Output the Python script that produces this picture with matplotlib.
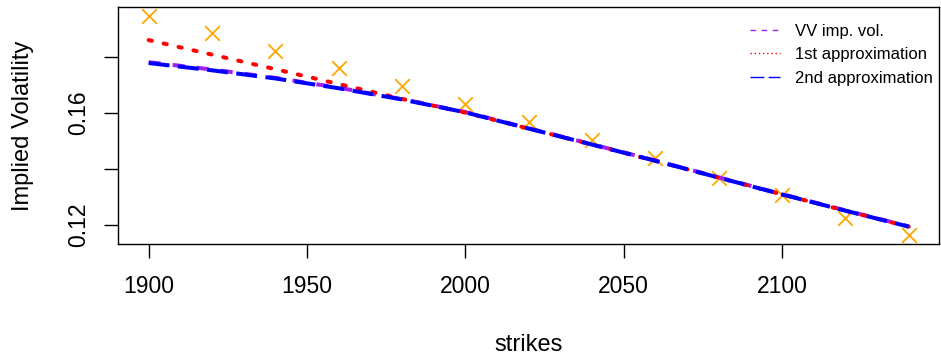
import matplotlib
matplotlib.use('Agg')
import matplotlib.pyplot as plt
from matplotlib.lines import Line2D

# data
strikes = [1900, 1920, 1940, 1960, 1980, 2000, 2020, 2040, 2060, 2080, 2100, 2120, 2140]
market_vol = [0.1946, 0.1884, 0.1821, 0.1760, 0.1696, 0.1632, 0.1569, 0.1503,
              0.1439, 0.1368, 0.1307, 0.1226, 0.1164]
vv_vol = [0.1781, 0.1755, 0.1725, 0.1690, 0.1649, 0.1603, 0.1545, 0.1488,
          0.1430, 0.1370, 0.1310, 0.1252, 0.1195]
first_approx = [0.1860, 0.1808, 0.1756, 0.1703, 0.1650, 0.1601, 0.1544, 0.1487,
                0.1429, 0.1369, 0.1309, 0.1251, 0.1194]
second_approx = [0.1778, 0.1752, 0.1723, 0.1688, 0.1648, 0.1602, 0.1544, 0.1487,
                 0.1429, 0.1369, 0.1309, 0.1251, 0.1194]
xticks = [1900, 1950, 2000, 2050, 2100]
yticks = [0.12, 0.14, 0.16, 0.18]
ytick_labels = ['0.12', '', '0.16', '']
labels = ['VV imp. vol.', '1st approximation', '2nd approximation']

plt.rcParams['font.family'] = ['Liberation Sans', 'DejaVu Sans']

fig = plt.figure(figsize=(9.41, 3.63), dpi=100)
ax = fig.add_axes([0.1257, 0.3278, 0.998 - 0.1257, 0.9807 - 0.3278])

lw = 2.9
ax.scatter(strikes, market_vol, marker='x', s=110, color='#FFA500', linewidths=1.3, zorder=2)
ax.plot(strikes, vv_vol, color='#A020F0', lw=lw, dashes=(3, 3), zorder=3)
ax.plot(strikes, first_approx, color='red', lw=lw, dashes=(0.8, 3.0),
        dash_capstyle='round', zorder=4)
ax.plot(strikes, second_approx, color='blue', lw=lw, dashes=(5.2, 2.1), zorder=5)

ax.set_xlim(1890.4, 2149.6)
ax.set_ylim(0.1132, 0.1978)
ax.set_xticks(xticks)
ax.set_xticklabels([str(t) for t in xticks])
ax.set_yticks(yticks)
ax.set_yticklabels(ytick_labels, rotation=90, va='center')

ax.tick_params(axis='both', direction='out', length=10, width=1, labelsize=16.5)
ax.tick_params(axis='x', pad=12)
ax.tick_params(axis='y', pad=10)
for s in ax.spines.values():
    s.set_linewidth(1)

ax.set_xlabel('strikes', fontsize=17, labelpad=26)
ax.set_ylabel('Implied Volatility', fontsize=17, labelpad=24)

# legend uses thin lines like the original
handles = [
    Line2D([], [], color='#A020F0', lw=1, dashes=(4, 4)),
    Line2D([], [], color='red', lw=1, dashes=(1, 2)),
    Line2D([], [], color='blue', lw=1, dashes=(10, 3)),
]
ax.legend(handles, labels, loc='upper right', frameon=False, fontsize=12,
          handlelength=1.8, handletextpad=0.9, labelspacing=0.5,
          borderaxespad=0.0, borderpad=0.3, bbox_to_anchor=(0.999, 0.95))

fig.savefig('out.png', dpi=100)
